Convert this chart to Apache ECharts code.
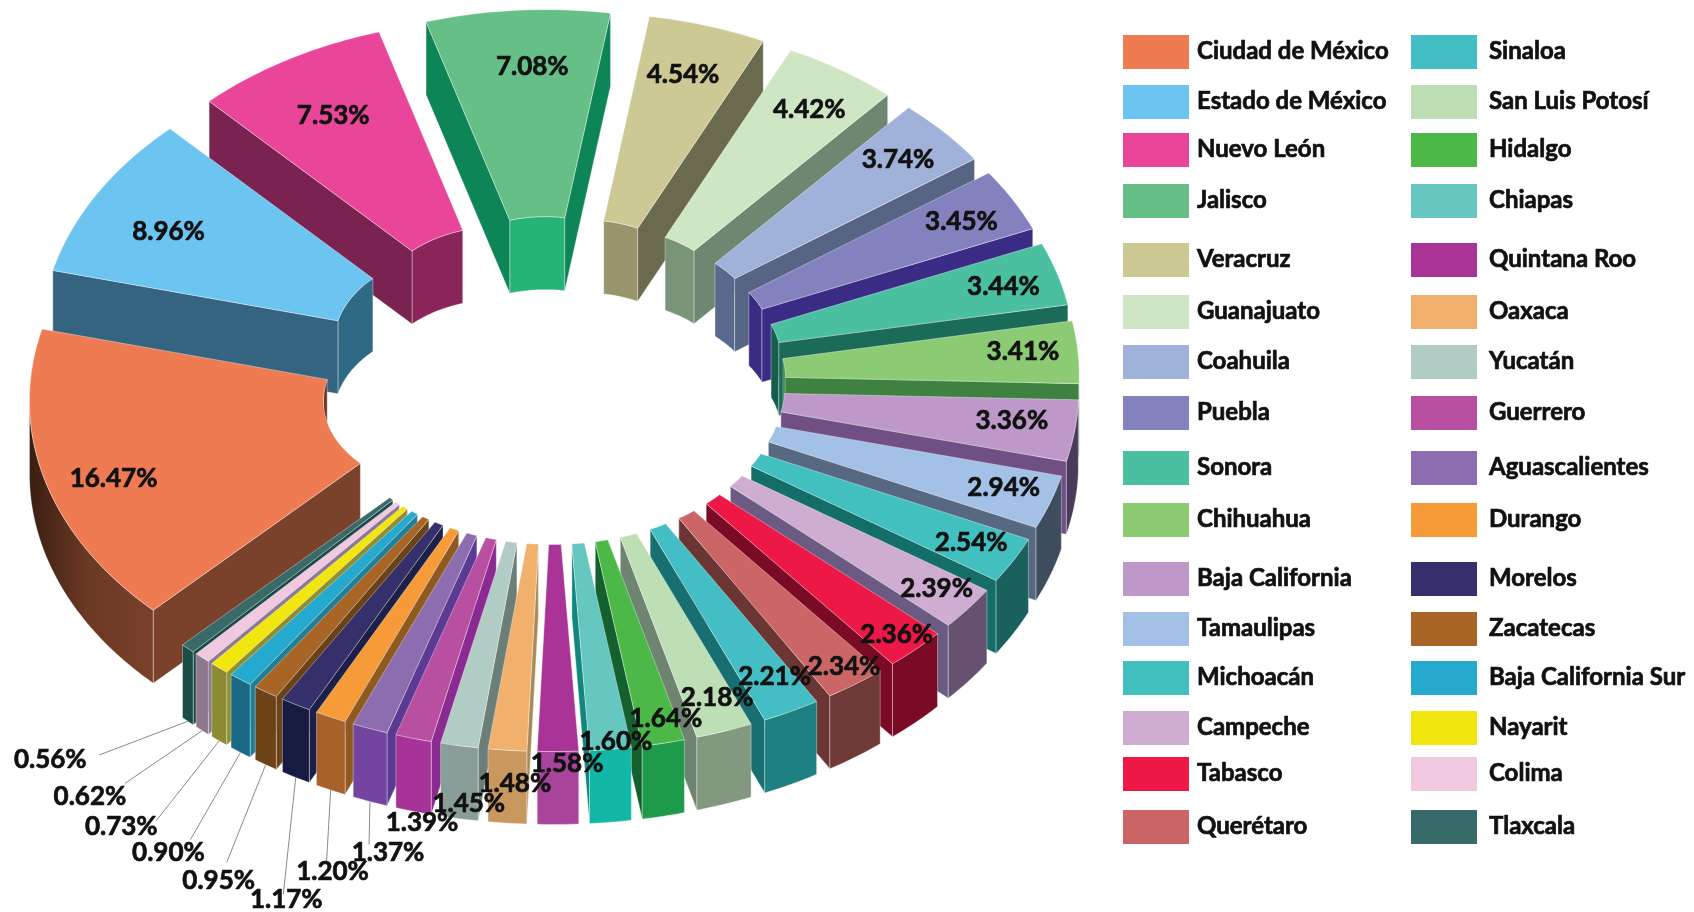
<!DOCTYPE html>
<html><head><meta charset="utf-8">
<style>html,body{margin:0;padding:0;background:#fff}#c{width:1694px;height:912px}</style>
<script src="https://cdn.jsdelivr.net/npm/echarts@6/dist/echarts.min.js"></script>
</head><body><div id="c"></div>
<script>
const states=["Ciudad de México","Estado de México","Nuevo León","Jalisco","Veracruz","Guanajuato","Coahuila","Puebla","Sonora","Chihuahua","Baja California","Tamaulipas","Michoacán","Campeche","Tabasco","Querétaro","Sinaloa","San Luis Potosí","Hidalgo","Chiapas","Quintana Roo","Oaxaca","Yucatán","Guerrero","Aguascalientes","Durango","Morelos","Zacatecas","Baja California Sur","Nayarit","Colima","Tlaxcala"];
const shares=[16.47,8.96,7.53,7.08,4.54,4.42,3.74,3.45,3.44,3.41,3.36,2.94,2.54,2.39,2.36,2.34,2.21,2.18,1.64,1.60,1.58,1.48,1.45,1.39,1.37,1.20,1.17,0.95,0.90,0.73,0.62,0.56];
const topColors=["#EE7B52","#6CC5F1","#E9469A","#66BF87","#CCC994","#CFE6C5","#A0B2DA","#8482BE","#4AC0A0","#8CCB74","#BE98C9","#A3C0E6","#42C0C0","#CFADD2","#ED1846","#CC6666","#42BEC4","#BEDFB6","#4CB848","#66C6C0","#A93396","#F1B06B","#B0CCC4","#B84FA0","#8C6DB0","#F79A38","#352F6C","#A96526","#25A9CE","#F2E60F","#F0C8E0","#376A69"];
const wallColors=["#7A412B","#34647F","#7A2250","#0E8556","#6C6A4E","#6D8770","#566583","#3A2B85","#1A6C58","#3E8140","#704F85","#566980","#136D69","#6B5B82","#7B0A24","#6B3533","#176F71","#6E8470","#14602F","#11877F","#7A2070","#A88A58","#6C7E78","#8B2A90","#5B3A94","#8F5A20","#1C1F48","#6A4215","#1E7F9A","#8F8F30","#8F7A93","#1A4C47"];
const rimColors=["#6A3823","#2F6A85","#8A2459","#26B376","#98956D","#7A9478","#58698D","#3A2B85","#155E4D","#2D6B33","#4A3A5C","#3F4C5E","#1A615E","#665270","#7A0A26","#703A38","#1E8080","#83997F","#1E9A4B","#12B8A5","#A8449C","#C9985E","#8A9E99","#A83398","#7345A0","#A9612A","#171B42","#6C4216","#1A6A85","#8C8A33","#8E7890","#1C4D48"];
const labelReach=[.871,.83,.824,.847,.861,.88,.887,.889,.895,.899,.881,.906,.909,.922,.948,.95,.903,.912,.937,.98,1.033,1.088,1.152,1.217,1.309,1.387,1.486,1.488,1.465,1.453,1.422,1.396];
const labelTurn=[-3.8,-2.9,-1.7,-.3,-1.9,-1.1,-1.7,-1.4,-1.4,-2.3,-2.5,-2.3,-2,-2.1,-1.9,-2.4,-2.8,-2.9,-3,-2.6,-2.8,-3,-4.1,-5.4,-8.3,-9.2,-11.1,-9.6,-8.3,-6.8,-5.4,-2.6];
const leaderFrom=24;
const leaderEnd=[[-19,-8],[-6,-9],[-3,-5],[8,-18],[22,-13],[35,-6],[35,-13],[49,-5]];
const legendRowY=[52,102,150,201,260,312,362,413,468,520,579,629,678,728,774,827];
const legendSwatchX=[1123,1411];
const legendTextX=[1197,1489];
const FONT='Lato';
const G={cx:552.5,cy:380.5,k:.704,R:419,r:125,d:108,depth:73,a0:224.8,labelA0:226.5,labelCx:551};
const rad=a=>a*Math.PI/180;
const starts=[];shares.reduce((s,v,i)=>(starts[i]=s,s+v),0);
const total=shares.reduce((a,b)=>a+b,0);
const angOf=s=>G.a0+s/total*360;
function proj(ox,oy,a,rho,h){return [ox+rho*Math.sin(rad(a)),oy-rho*Math.cos(rad(a))*G.k+(h||0)];}
function arc(ox,oy,a,b,rho,h){const p=[];const n=Math.max(2,Math.ceil(b-a));for(let i=0;i<=n;i++)p.push(proj(ox,oy,a+(b-a)*i/n,rho,h));return p;}
function clip(a,b,ranges){const out=[];ranges.forEach(([l,u])=>{const x=Math.max(a,l),y=Math.min(b,u);if(y>x)out.push([x,y]);});return out;}
const edge={stroke:'rgba(255,255,255,.45)',lineWidth:.8};
function poly(points,fill){return {type:'polygon',shape:{points},style:Object.assign({fill},edge)};}
function renderSlice(params,api){
  const i=api.value(0),v=api.value(1),s=api.value(2);
  const a=angOf(s),b=angOf(s+v),m=(a+b)/2;
  const ox=G.cx+G.d*Math.sin(rad(m)),oy=G.cy-G.d*Math.cos(rad(m))*G.k;
  const kids=[];
  clip(a,b,[[270,450]]).forEach(([x,y])=>{
    kids.push(poly(arc(ox,oy,x,y,G.r,0).concat(arc(ox,oy,x,y,G.r,G.depth).reverse()),rimColors[i]));
  });
  const wall=t=>poly([proj(ox,oy,t,G.r,0),proj(ox,oy,t,G.R,0),proj(ox,oy,t,G.R,G.depth),proj(ox,oy,t,G.r,G.depth)],wallColors[i]);
  if(Math.sin(rad(a))<0)kids.push(wall(a));
  if(Math.sin(rad(b))>0)kids.push(wall(b));
  clip(a,b,[[90,270],[450,630]]).forEach(([x,y])=>{
    const el=poly(arc(ox,oy,x,y,G.R,0).concat(arc(ox,oy,x,y,G.R,G.depth).reverse()),rimColors[i]);
    if(i===0)el.style.fill=new echarts.graphic.LinearGradient(0,0,1,0,[{offset:0,color:'#3A1E12'},{offset:.45,color:'#6A3823'},{offset:1,color:'#7A412B'}]);
    kids.push(el);
  });
  kids.push(poly(arc(ox,oy,a,b,G.R,0).concat(arc(ox,oy,a,b,G.r,0).reverse()),topColors[i]));
  return {type:'group',children:kids};
}
function labelPos(i){const m=G.labelA0+(starts[i]+shares[i]/2)/total*360+labelTurn[i];return proj(G.labelCx,G.cy,m,labelReach[i]*(G.R+G.d));}
const bold={stroke:'#111',lineWidth:.7};
function renderLabel(params,api){
  const i=api.value(0),v=api.value(1);
  const [x,y]=labelPos(i);
  const kids=[{type:'text',style:Object.assign({text:v.toFixed(2)+'%',x,y,fill:'#111',fontFamily:FONT,fontWeight:700,fontSize:26,align:'center',verticalAlign:'middle'},bold)}];
  if(i>=leaderFrom){
    const m=angOf(starts[i]+shares[i]/2);
    const ox=G.cx+G.d*Math.sin(rad(m)),oy=G.cy-G.d*Math.cos(rad(m))*G.k;
    const p=proj(ox,oy,m,G.R,G.depth);const e=leaderEnd[i-leaderFrom];
    kids.unshift({type:'line',shape:{x1:p[0],y1:p[1],x2:x+e[0],y2:y+e[1]},style:{stroke:'#8a8a8a',lineWidth:1}});
  }
  return {type:'group',children:kids};
}
function renderLegend(params,api){
  const i=api.value(0);const col=i<16?0:1;const row=i%16;const yc=legendRowY[row];
  return {type:'group',children:[
    {type:'rect',shape:{x:legendSwatchX[col],y:yc-17,width:66,height:34},style:{fill:topColors[i]}},
    {type:'text',style:Object.assign({text:states[i],x:legendTextX[col],y:yc-1,fill:'#111',fontFamily:FONT,fontWeight:700,fontSize:24,align:'left',verticalAlign:'middle'},bold)}
  ]};
}
const rows=shares.map((v,i)=>({name:states[i],value:[i,v,starts[i]]}));
const order=rows.slice().sort((p,q)=>{
  const c=x=>Math.cos(rad(angOf(x.value[2]+x.value[1]/2)));
  return c(q)-c(p);
});
const chart=echarts.init(document.getElementById('c'));
chart.setOption({
  animation:false,
  backgroundColor:'#fff',
  tooltip:{show:false},
  series:[
    {type:'custom',coordinateSystem:'none',renderItem:renderSlice,data:order,z:1,silent:true},
    {type:'custom',coordinateSystem:'none',renderItem:renderLabel,data:rows,z:2,silent:true},
    {type:'custom',coordinateSystem:'none',renderItem:renderLegend,data:rows,z:3,silent:true}
  ]
});
</script></body></html>
